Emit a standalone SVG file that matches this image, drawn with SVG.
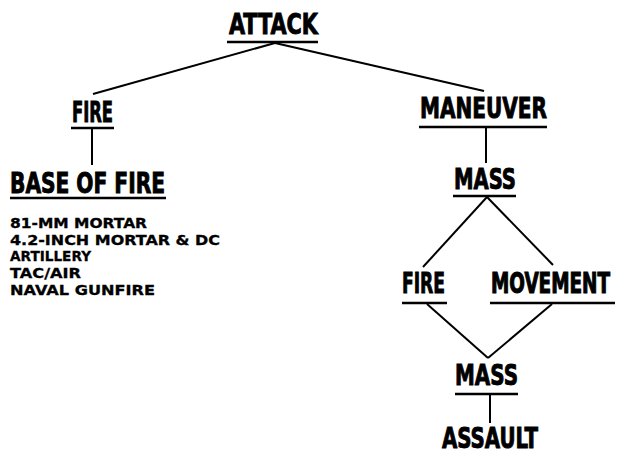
<svg xmlns="http://www.w3.org/2000/svg" width="617" height="456" viewBox="0 0 617 456">
<style>
.h{font-family:"DejaVu Sans Condensed","DejaVu Sans",sans-serif;font-weight:bold;font-stretch:condensed;font-size:29px;fill:#000;stroke:#000;stroke-width:0.9}
.s{font-family:"DejaVu Sans","Liberation Sans",sans-serif;font-weight:bold;font-size:13.5px;fill:#000;stroke:#000;stroke-width:0.3}
.u{stroke:#000;stroke-width:2.5;fill:none}
.c{stroke:#000;stroke-width:2;fill:none}
</style>
<rect width="617" height="456" fill="#fff"/>
<g id="attack"><text class="h" x="229" y="34" textLength="89" lengthAdjust="spacingAndGlyphs">ATTACK</text><line class="u" x1="227" y1="42" x2="318" y2="42"/></g>
<g id="fire1"><text class="h" x="72" y="122" textLength="41" lengthAdjust="spacingAndGlyphs">FIRE</text><line class="u" x1="71" y1="128" x2="114" y2="128"/></g>
<g id="base"><text class="h" x="10" y="193" textLength="155" lengthAdjust="spacingAndGlyphs">BASE OF FIRE</text><line class="u" x1="10" y1="198" x2="166" y2="198"/></g>
<g id="list">
<text class="s" x="10" y="228" textLength="137" lengthAdjust="spacingAndGlyphs">81-MM MORTAR</text>
<text class="s" x="10" y="245" textLength="210" lengthAdjust="spacingAndGlyphs">4.2-INCH MORTAR &amp; DC</text>
<text class="s" x="10" y="261" textLength="81" lengthAdjust="spacingAndGlyphs">ARTILLERY</text>
<text class="s" x="10" y="278" textLength="71" lengthAdjust="spacingAndGlyphs">TAC/AIR</text>
<text class="s" x="10" y="295" textLength="145" lengthAdjust="spacingAndGlyphs">NAVAL GUNFIRE</text>
</g>
<g id="maneuver"><text class="h" x="420" y="118" textLength="127" lengthAdjust="spacingAndGlyphs">MANEUVER</text><line class="u" x1="419" y1="127" x2="547" y2="127"/></g>
<g id="mass1"><text class="h" x="454" y="189" textLength="62" lengthAdjust="spacingAndGlyphs">MASS</text><line class="u" x1="453" y1="196" x2="516" y2="196"/></g>
<g id="fire2"><text class="h" x="402" y="293" textLength="43" lengthAdjust="spacingAndGlyphs">FIRE</text><line class="u" x1="402" y1="303" x2="447" y2="303"/></g>
<g id="movement"><text class="h" transform="translate(491 293) scale(1 1.45)" x="0" y="0" style="font-size:20px;stroke-width:0.75" textLength="119" lengthAdjust="spacingAndGlyphs">MOVEMENT</text><line class="u" x1="490" y1="303" x2="615" y2="303"/></g>
<g id="mass2"><text class="h" x="455" y="385" textLength="63" lengthAdjust="spacingAndGlyphs">MASS</text><line class="u" x1="455" y1="394" x2="518" y2="394"/></g>
<g id="assault"><text class="h" x="442" y="448" textLength="96" lengthAdjust="spacingAndGlyphs">ASSAULT</text></g>
<g id="connectors">
<line class="c" x1="275" y1="43" x2="93" y2="94"/>
<line class="c" x1="275" y1="43" x2="484" y2="91"/>
<line class="c" x1="92" y1="128" x2="92" y2="165"/>
<line class="c" x1="486" y1="127" x2="486" y2="163"/>
<line class="c" x1="487" y1="197" x2="423" y2="267"/>
<line class="c" x1="487" y1="197" x2="553" y2="265"/>
<line class="c" x1="427" y1="304" x2="488" y2="358"/>
<line class="c" x1="552" y1="304" x2="488" y2="358"/>
<line class="c" x1="490" y1="394" x2="490" y2="423"/>
</g>
</svg>
